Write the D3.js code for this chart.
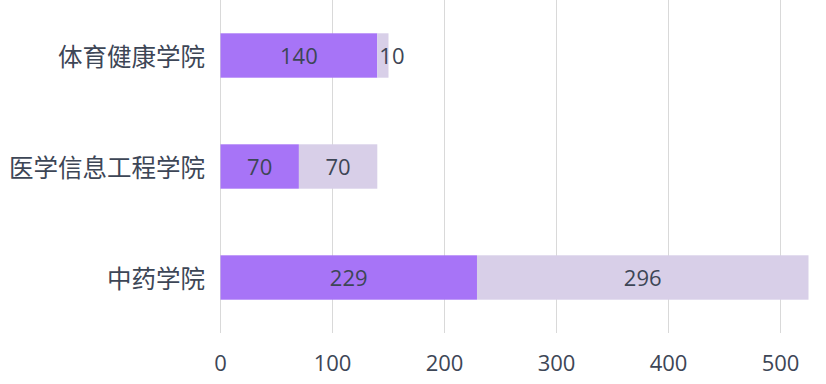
<!DOCTYPE html>
<html><head><meta charset="utf-8">
<script src="https://cdn.jsdelivr.net/npm/d3@7"></script>
<style>body{margin:0;background:#fff}</style>
</head><body>
<svg id="c" width="826" height="384"></svg>
<script>
const categories = ["体育健康学院", "医学信息工程学院", "中药学院"];
const series1 = [140, 70, 229];
const series2 = [10, 70, 296];
const xTicks = [0, 100, 200, 300, 400, 500];

const svg = d3.select("#c");
const x = d3.scaleLinear().domain([0, 500]).range([220.5, 780.5]);
const y = d3.scaleBand().domain(categories).range([0, 333]).paddingInner(0.6).paddingOuter(0.3);
const txt = "#3d4656";
const font = "'Open Sans','Noto Sans CJK SC',sans-serif";

// gridlines
svg.append("g").selectAll("line").data(xTicks).join("line")
  .attr("x1", d => x(d)).attr("x2", d => x(d))
  .attr("y1", 0).attr("y2", 333)
  .attr("stroke", "#d9d9d9").attr("stroke-width", 1);

// axis labels
svg.append("g").selectAll("text").data(xTicks).join("text")
  .attr("x", d => x(d)).attr("y", 371)
  .attr("text-anchor", "middle")
  .attr("font-family", font).attr("font-size", 22).attr("fill", txt)
  .text(d => d);

// category labels
svg.append("g").selectAll("text").data(categories).join("text")
  .attr("x", 205).attr("y", d => y(d) + y.bandwidth() / 2 + 1.5)
  .attr("dy", "0.35em").attr("text-anchor", "end")
  .attr("font-family", "'Noto Sans CJK SC',sans-serif").attr("font-size", 24.5).attr("fill", txt)
  .text(d => d);

const segs = [];
categories.forEach((c, i) => {
  segs.push({c, x0: 0, x1: series1[i], v: series1[i], color: "#a774f7"});
  segs.push({c, x0: series1[i], x1: series1[i] + series2[i], v: series2[i], color: "#d8cfe8"});
});

svg.append("g").selectAll("rect").data(segs).join("rect")
  .attr("x", d => x(d.x0)).attr("width", d => x(d.x1) - x(d.x0))
  .attr("y", d => y(d.c)).attr("height", y.bandwidth())
  .attr("fill", d => d.color);

svg.append("g").selectAll("text").data(segs).join("text")
  .each(function(d) {
    const w = x(d.x1) - x(d.x0);
    const s = d3.select(this);
    if (w < 30) {
      s.attr("x", x(d.x0) + 2).attr("text-anchor", "start");
    } else {
      s.attr("x", (x(d.x0) + x(d.x1)) / 2).attr("text-anchor", "middle");
    }
  })
  .attr("y", d => y(d.c) + y.bandwidth() / 2 + 1).attr("dy", "0.35em")
  .attr("font-family", font).attr("font-size", 22).attr("fill", txt)
  .text(d => d.v);
</script>
</body></html>
